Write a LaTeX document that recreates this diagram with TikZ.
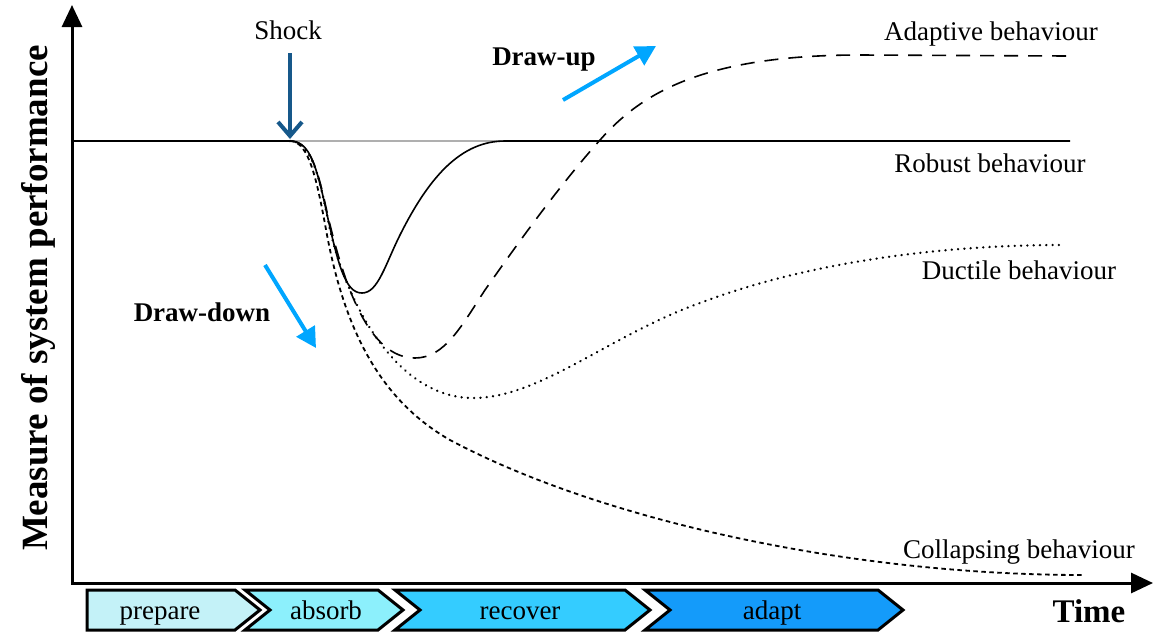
\documentclass[tikz,border=0pt]{standalone}
\usepackage{fontspec}
\setmainfont{Liberation Serif}
\usetikzlibrary{arrows.meta}
\definecolor{cprep}{RGB}{196,242,248}
\definecolor{cabs}{RGB}{140,240,252}
\definecolor{crec}{RGB}{52,204,255}
\definecolor{cadp}{RGB}{20,155,250}
\definecolor{lblue}{RGB}{0,166,255}
\definecolor{sblue}{RGB}{22,88,138}
\definecolor{lgray}{RGB}{175,175,175}
\tikzset{
  lbl/.style={anchor=base,font=\fontsize{27}{30}\selectfont},
  blbl/.style={anchor=base,font=\fontsize{27}{30}\selectfont\bfseries},
  chev/.style={draw=black,line width=3pt,line join=miter},
  curve/.style={line width=1.6pt},
  adaptive/.style={curve,dash pattern=on 14pt off 10pt},
  ductile/.style={line width=2.6pt,line cap=round,dash pattern=on 0.01pt off 6.3pt},
  collapsing/.style={line width=1.8pt,dash pattern=on 4.5pt off 3.5pt},
  trendarrow/.style={draw=lblue,line width=4pt,-{Triangle[length=20pt,width=21pt]}},
  axis/.style={line width=3pt,line join=miter,{Triangle[length=22pt,width=20pt]}-{Triangle[length=22pt,width=20pt]}}
}
\begin{document}
\begin{tikzpicture}[x=1pt,y=-1pt]
\useasboundingbox (0,0) rectangle (1164,633);
% axes
\coordinate (ytip) at (72,5);
\coordinate (orig) at (72,583);
\coordinate (xtip) at (1153,583);
\draw[axis] (ytip) -- (orig) -- (xtip);
\node[blbl,rotate=90,font=\fontsize{37}{40}\selectfont\bfseries] (ylab) at (47,298) {Measure of system performance};
\node[blbl,font=\fontsize{33}{36}\selectfont\bfseries] (time) at (1089,622) {Time};
% gray reference line
\draw[lgray,line width=1.5pt] (290,141) -- (1070,141);
% robust
\draw[curve] (72,141) -- (290,141) .. controls (308,141) and (315,160) .. (325,205)
  .. controls (338,265) and (345,293) .. (362,293)
  .. controls (378,293) and (385,265) .. (400,235)
  .. controls (430,175) and (462,141) .. (505,141) -- (1070,141);
% adaptive
\draw[adaptive] (290,141) .. controls (310,141) and (318,170) .. (327,212)
  .. controls (345,290) and (370,358) .. (415,358)
  .. controls (445,358) and (462,325) .. (485,290)
  .. controls (520,240) and (560,185) .. (600,140)
  .. controls (640,95) and (700,55) .. (860,55) -- (1068,56);
% ductile
\draw[ductile] (290,141) .. controls (311,141) and (319,175) .. (329,225)
  .. controls (345,300) and (395,398) .. (473,398)
  .. controls (540,398) and (610,335) .. (700,303)
  .. controls (800,265) and (930,245) .. (1062,245);
% collapsing
\draw[collapsing] (290,141) .. controls (309,141) and (317,180) .. (327,235)
  .. controls (345,330) and (380,400) .. (450,440)
  .. controls (600,520) and (850,575) .. (1083,575);
% shock arrow
\node[lbl] (shock) at (288,39) {Shock};
\coordinate (shs) at (290,53);
\coordinate (she) at (290,139);
\draw[sblue,line width=4pt,-{Straight Barb[length=14pt,width=24pt,line width=4pt]}] (shs) -- (she);
% draw-up / draw-down
\node[blbl] (dup) at (544,65) {Draw-up};
\coordinate (dus) at (563,100);
\coordinate (due) at (656,46);
\draw[trendarrow] (dus) -- (due);
\node[blbl] (ddown) at (202,321) {Draw-down};
\coordinate (dds) at (265,265);
\coordinate (dde) at (316,348);
\draw[trendarrow] (dds) -- (dde);
% behaviour labels
\node[lbl] (ladp) at (991,40) {Adaptive behaviour};
\node[lbl] (lrob) at (990,172) {Robust behaviour};
\node[lbl] (lduc) at (1019,279) {Ductile behaviour};
\node[lbl] (lcol) at (1019,558) {Collapsing behaviour};
% phase chevrons
\draw[chev,fill=cprep] (87,590) -- (235,590) -- (260,610) -- (235,630) -- (87,630) -- cycle;
\draw[chev,fill=cabs] (245,590) -- (378,590) -- (403,610) -- (378,630) -- (245,630) -- (270,610) -- cycle;
\draw[chev,fill=crec] (395,590) -- (625,590) -- (650,610) -- (625,630) -- (395,630) -- (420,610) -- cycle;
\draw[chev,fill=cadp] (645,590) -- (878,590) -- (903,610) -- (878,630) -- (645,630) -- (670,610) -- cycle;
\node[lbl] (pprep) at (160,619) {prepare};
\node[lbl] (pabs) at (326,619) {absorb};
\node[lbl] (prec) at (520,619) {recover};
\node[lbl] (padp) at (772,619) {adapt};
\end{tikzpicture}
\end{document}
